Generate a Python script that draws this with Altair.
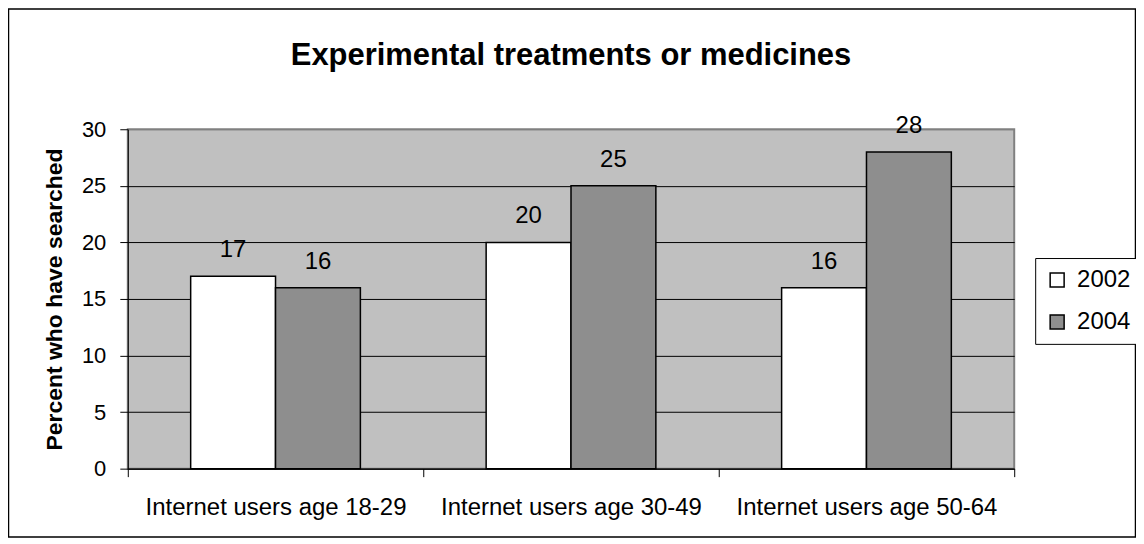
import altair as alt
import pandas as pd

categories = ["Internet users age 18-29", "Internet users age 30-49", "Internet users age 50-64"]
years = ["2002", "2004"]
values_2002 = [17, 20, 16]
values_2004 = [16, 25, 28]
y_ticks = [0, 5, 10, 15, 20, 25, 30]
year_colors = ["#FFFFFF", "#8E8E8E"]
title_text = "Experimental treatments or medicines"
y_title = "Percent who have searched"

rows = []
for c, a, b in zip(categories, values_2002, values_2004):
    rows.append({"group": c, "year": years[0], "value": a})
    rows.append({"group": c, "year": years[1], "value": b})
df = pd.DataFrame(rows)

FONT = "Liberation Sans"
W, H = 888, 340

x_scale = alt.Scale(paddingInner=0, paddingOuter=0)
off_scale = alt.Scale(paddingInner=0, paddingOuter=0.741)

x_axis = alt.Axis(
    title=None, labelAngle=0, tickBand="extent", labelFontSize=24, labelFont=FONT,
    labelColor="black", labelPadding=19, labelLimit=400, tickSize=8, tickColor="black",
    domainColor="black", domainWidth=1, tickWidth=1, grid=False,
)
y_axis = alt.Axis(
    values=y_ticks, title=y_title, titleFont=FONT, titleFontSize=23, titleFontWeight="bold",
    titleColor="black", titleAngle=270, titleX=-66, titleY=170, titleAlign="center",
    titleBaseline="alphabetic", labelFontSize=22, labelFont=FONT, labelColor="black",
    labelPadding=14, tickSize=8, tickColor="black", domainColor="black", domainWidth=1,
    grid=True, gridWidth=1,
    gridColor={"condition": {"test": "datum.value === 30", "value": "#808080"}, "value": "black"},
)

bars = alt.Chart(df).mark_bar(stroke="black", strokeWidth=1.5).encode(
    x=alt.X("group:N", sort=categories, scale=x_scale, axis=x_axis),
    xOffset=alt.XOffset("year:N", sort=years, scale=off_scale),
    y=alt.Y("value:Q", scale=alt.Scale(domain=[0, 30], nice=False), axis=y_axis),
    fill=alt.Fill(
        "year:N", sort=years,
        scale=alt.Scale(domain=years, range=year_colors),
        legend=alt.Legend(
            title=None, orient="none", legendX=909, legendY=129, direction="vertical",
            strokeColor="black", fillColor="white", padding=10, symbolType="square",
            symbolSize=196, symbolStrokeColor="black", symbolStrokeWidth=1.5,
            labelFontSize=24, labelFont=FONT, labelColor="black", labelOffset=8,
            rowPadding=18, symbolOpacity=1,
        ),
    ),
)

labels = alt.Chart(df).mark_text(
    baseline="alphabetic", dy=-19, fontSize=24, font=FONT, color="black"
).encode(
    x=alt.X("group:N", sort=categories, scale=x_scale),
    xOffset=alt.XOffset("year:N", sort=years, scale=off_scale),
    y=alt.Y("value:Q"),
    text=alt.Text("value:Q"),
)

border = alt.Chart(pd.DataFrame({"k": [0]})).mark_rect(
    fill="transparent", stroke="black", strokeWidth=1.5
).encode(
    x=alt.value(-119.5), x2=alt.value(1009.5), y=alt.value(-120.5), y2=alt.value(408.5)
)

chart = alt.layer(border, bars, labels).properties(
    width=W, height=H,
    autosize=alt.AutoSizeParams(type="none"),
    padding={"left": 120, "top": 121, "right": 122, "bottom": 69},
    title=alt.TitleParams(
        text=title_text, font=FONT, fontSize=31, fontWeight="bold", color="black",
        anchor="middle", frame="group", baseline="alphabetic", offset=0, dy=88,
    ),
    background="white",
).configure_view(
    fill="#C0C0C0", stroke="#808080", strokeWidth=2
)

chart.save("out.html", embed_options={"renderer": "svg", "actions": False})
